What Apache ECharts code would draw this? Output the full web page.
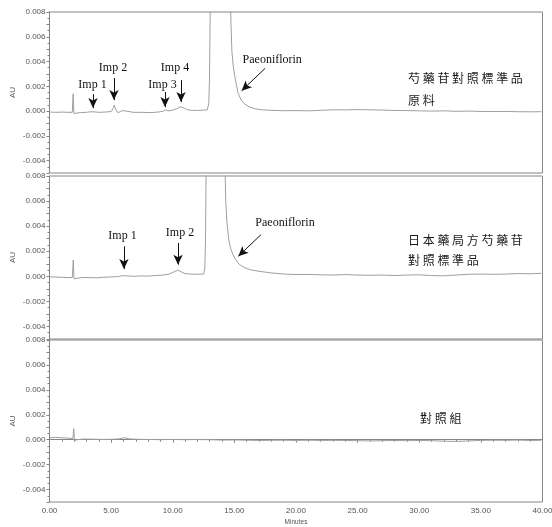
<!DOCTYPE html>
<html>
<head>
<meta charset="utf-8">
<script src="https://cdn.jsdelivr.net/npm/echarts@6/dist/echarts.min.js"></script>
<style>
  html, body { margin: 0; padding: 0; background: #fff; }
  #chart { width: 552px; height: 527px; }
</style>
</head>
<body>
<div id="chart"></div>
<script>
// Retention time (min) and absorbance (AU) for each chromatogram trace.
// Trace A: paeoniflorin reference standard raw material
const timesA = [0.05, 0.5, 1.0, 1.5, 1.85, 1.92, 1.98, 2.05, 2.5, 3.0, 3.3, 3.45, 3.6, 4.0, 4.5, 5.0, 5.15, 5.25, 5.35, 5.5, 5.7, 5.9, 6.2, 6.8, 7.5, 8.2, 8.8, 9.2, 9.4, 9.6, 9.9, 10.3, 10.65, 10.9, 11.2, 11.6, 12.0, 12.5, 12.8, 12.92, 12.98, 13.05, 13.15, 13.9, 14.55, 14.65, 14.72, 14.8, 14.9, 15.05, 15.3, 15.55, 15.8, 16.2, 16.6, 17.2, 18.0, 19, 20, 21, 22, 23, 24, 25, 26, 27, 28, 29, 30, 31, 32, 33, 34, 35, 36, 37, 38, 39, 39.9];
const auA = [-0.00008, -0.0001, -0.00008, -0.0001, -0.0001, 0.0014, -0.0002, -0.00018, -0.00012, -0.0001, -0.00006, 0.00003, -0.00006, -0.0001, -0.00008, -0.00004, 0.0002, 0.00048, 0.0002, -0.0001, -0.00008, 0.00004, 0.0, -0.0001, -0.0001, -0.00012, -0.00008, -0.00002, 0.0001, 0.00002, 0.00005, 0.00018, 0.00035, 0.00025, 0.0001, 0.00006, 0.00005, 0.00008, 0.0001, 0.0006, 0.0025, 0.009, 0.03, 0.1, 0.03, 0.011, 0.0072, 0.0048, 0.0037, 0.0027, 0.00145, 0.0009, 0.0006, 0.00035, 0.0002, 0.0001, 0.00006, 0.00003, 0.00004, 0.00002, 0.00006, 0.0001, 0.0001, 0.00012, 0.0001, 0.00008, 0.00005, 0.00004, 0.00002, 0.0, 0.00002, -0.00002, 0.0, -0.00003, -0.00004, -0.00003, -0.00005, -0.00006, -0.00005];

// Trace B: Japanese Pharmacopoeia paeoniflorin reference standard
const timesB = [0.05, 0.5, 1.0, 1.5, 1.85, 1.93, 1.99, 2.1, 2.6, 3.2, 3.8, 4.4, 5.0, 5.6, 5.9, 6.04, 6.2, 6.8, 7.4, 8.0, 8.6, 9.2, 9.7, 10.1, 10.4, 10.7, 11.0, 11.5, 12.0, 12.5, 12.6, 12.66, 12.72, 12.8, 13.4, 14.1, 14.22, 14.3, 14.4, 14.55, 14.7, 14.9, 15.1, 15.4, 15.8, 16.3, 17.0, 17.9, 19, 20, 21, 22, 23, 24, 25, 26, 27, 28, 29, 30, 31, 32, 33, 34, 35, 36, 37, 38, 39, 39.9];
const auB = [-0.00005, -0.00006, -0.00008, -0.0001, -0.0001, 0.0013, -0.0002, -0.00015, -0.0001, -0.0001, -0.00012, -0.00008, -0.00005, -0.00002, 0.00005, 0.00011, 0.00004, 0.0, 0.00003, 0.00002, 0.00006, 0.0001, 0.00018, 0.00035, 0.0005, 0.00035, 0.00022, 0.00018, 0.00016, 0.00018, 0.0006, 0.003, 0.01, 0.03, 0.12, 0.03, 0.0095, 0.006, 0.0043, 0.0029, 0.0022, 0.0017, 0.00135, 0.00095, 0.0007, 0.00052, 0.0004, 0.00028, 0.00018, 0.00014, 0.00015, 0.00012, 0.0001, 0.00014, 0.0001, 0.00008, 0.0001, 0.00006, 0.0001, 0.00012, 0.00006, 0.00004, 0.0001, 0.00016, 0.00018, 0.00016, 0.00018, 0.00022, 0.0002, 0.00024];

// Trace C: control group (blank)
const timesC = [0.05, 0.5, 1.0, 1.5, 1.9, 1.97, 2.03, 2.2, 2.8, 3.5, 4.2, 5.0, 5.6, 6.1, 6.5, 7.2, 8.0, 9.0, 10.0, 11.0, 12.0, 13.0, 14.0, 15.0, 16.0, 17.0, 18.0, 19.0, 20, 21, 22, 23, 24, 25, 26, 27, 28, 29, 30, 31, 32, 33, 34, 35, 36, 37, 38, 39, 39.9];
const auC = [0.00016, 0.00018, 0.00016, 0.00012, 0.0001, 0.00088, -0.0001, 0.0, 0.00005, 0.00004, 0.00002, 0.00003, 0.00006, 0.00016, 0.00006, 0.00003, 0.00002, 0.0, 0.00002, 0.0, 0.00001, 0.0, -0.00003, -0.00002, -0.00004, -0.00006, -0.00005, -0.00004, -0.00006, -0.00004, -0.00006, -0.00005, -0.00006, -0.00008, -0.0001, -0.00008, -0.00006, -0.00008, -0.00006, -0.00008, -0.00012, -0.00014, -0.0001, -0.00006, -0.00004, -0.00005, -0.00003, -0.00006, -0.00005];

// Peak annotations: [label, text position (min, AU), arrow start, arrow end]
const peaksA = [
  ['Imp 1', [3.49, 0.0021], [3.53, 0.00137], [3.53, 0.00024]],
  ['Imp 2', [5.15, 0.00347], [5.23, 0.00267], [5.23, 0.00089]],
  ['Imp 3', [9.17, 0.0021], [9.37, 0.00154], [9.37, 0.00032]],
  ['Imp 4', [10.18, 0.00347], [10.67, 0.0025], [10.67, 0.00073]],
  ['Paeoniflorin', [18.07, 0.00412], [17.49, 0.00345], [15.59, 0.00164]]
];
const peaksB = [
  ['Imp 1', [5.92, 0.00319], [6.04, 0.00239], [6.04, 0.00059]],
  ['Imp 2', [10.59, 0.00346], [10.43, 0.00266], [10.43, 0.00093]],
  ['Paeoniflorin', [19.11, 0.00425], [17.16, 0.00332], [15.32, 0.0016]]
];

const sampleTitles = [
  ['芍 藥 苷 對 照 標 準 品', '原 料'],
  ['日 本 藥 局 方 芍 藥 苷', '對 照 標 準 品'],
  ['對 照 組']
];
const xTickLabels = ['0.00', '5.00', '10.00', '15.00', '20.00', '25.00', '30.00', '35.00', '40.00'];

const chart = echarts.init(document.getElementById('chart'), null, { renderer: 'canvas' });

const gridTops = [12, 176, 340];
const gridHeights = [161, 163, 162];
const axisGray = '#858585';
const labelGray = '#555';
const traceGray = '#9e9e9e';

function zip(ts, vs) { return ts.map((t, i) => [t, vs[i]]); }

function annotations(peaks) {
  return {
    markLine: {
      silent: true,
      animation: false,
      symbol: ['none', 'arrow'],
      symbolSize: [7, 10],
      lineStyle: { color: '#111', width: 1, type: 'solid' },
      label: { show: false },
      emphasis: { disabled: true },
      data: peaks.map(p => [{ coord: p[2] }, { coord: p[3] }])
    },
    markPoint: {
      silent: true,
      animation: false,
      symbol: 'circle',
      symbolSize: 1,
      itemStyle: { color: 'rgba(0,0,0,0)' },
      label: {
        show: true,
        position: 'inside',
        formatter: '{b}',
        color: '#111',
        fontFamily: 'Liberation Serif',
        fontSize: 12,
        backgroundColor: '#fff'
      },
      data: peaks.map(p => ({ name: p[0], coord: p[1] }))
    }
  };
}

const grids = gridTops.map((top, i) => ({
  left: 49.5, width: 493, top: top, height: gridHeights[i],
  outerBoundsMode: 'none', containLabel: false,
  show: true, borderColor: axisGray, borderWidth: 1, backgroundColor: 'transparent'
}));

const xAxes = [0, 1, 2].map(i => {
  const last = i === 2;
  return {
    type: 'value', gridIndex: i, min: 0, max: 40, interval: 5,
    axisLine: { show: last, lineStyle: { color: axisGray } },
    axisTick: { show: last, length: 3, lineStyle: { color: axisGray } },
    minorTick: { show: last, splitNumber: 5, length: 2, lineStyle: { color: axisGray } },
    splitLine: { show: false },
    axisLabel: {
      show: last, fontSize: 8, color: labelGray, fontFamily: 'Liberation Sans', margin: 5,
      formatter: v => xTickLabels[Math.round(v / 5)]
    },
    name: last ? 'Minutes' : '',
    nameLocation: 'middle', nameGap: 17, nameMoveOverlap: false,
    nameTextStyle: { fontSize: 6.5, color: labelGray, fontFamily: 'Liberation Sans' }
  };
});

const yAxes = [0, 1, 2].map(i => ({
  type: 'value', gridIndex: i, min: -0.005, max: 0.008, interval: 0.001,
  axisLine: { show: true, lineStyle: { color: axisGray } },
  axisTick: { show: true, length: 3, lineStyle: { color: axisGray } },
  minorTick: { show: true, splitNumber: 2, length: 2, lineStyle: { color: axisGray } },
  splitLine: { show: false },
  axisLabel: {
    fontSize: 8, color: labelGray, fontFamily: 'Liberation Sans', margin: 4,
    formatter: v => {
      const k = Math.round(v * 1000);
      return (k % 2 === 0 && k > -5) ? (k / 1000).toFixed(3) : '';
    }
  },
  name: 'AU', nameLocation: 'middle', nameGap: 33, nameMoveOverlap: false,
  nameTextStyle: { fontSize: 8, color: labelGray, fontFamily: 'Liberation Sans' }
}));

const traces = [zip(timesA, auA), zip(timesB, auB), zip(timesC, auC)];
const peakSets = [peaksA, peaksB, []];

const series = traces.map((d, i) => Object.assign({
  type: 'line', xAxisIndex: i, yAxisIndex: i, data: d,
  showSymbol: false, symbol: 'none', clip: true, silent: true,
  lineStyle: { color: traceGray, width: 1 },
  z: 3
}, peakSets[i].length ? annotations(peakSets[i]) : {}));

// Sample names written to the right of each trace
const titlePos = [[408, 78, 100], [408, 240, 260], [420, 418]];
const graphics = [];
sampleTitles.forEach((lines, i) => {
  lines.forEach((txt, j) => {
    graphics.push({
      type: 'text', x: titlePos[i][0], y: titlePos[i][1 + j], z: 10,
      style: {
        text: txt, fill: '#1a1a1a', verticalAlign: 'middle',
        font: '12px "Noto Sans CJK TC"', backgroundColor: '#fff'
      }
    });
  });
});

chart.setOption({
  animation: false,
  backgroundColor: '#fff',
  grid: grids,
  xAxis: xAxes,
  yAxis: yAxes,
  series: series,
  graphic: graphics
});
</script>
</body>
</html>
